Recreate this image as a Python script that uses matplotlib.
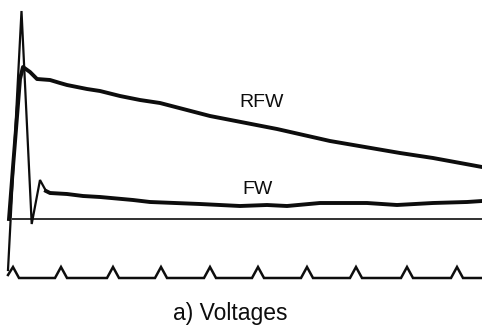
import matplotlib
matplotlib.use("Agg")
import matplotlib.pyplot as plt
import numpy as np

# time axis (arbitrary units) and voltages (arbitrary units, 0 = reference line)
fw_t = [8, 21.5, 31.7, 40, 46, 50, 67, 83, 100, 133, 150, 200, 240, 267, 287,
        320, 367, 397, 433, 467, 482]
fw_v = [-51, 208, -5, 39, 28, 26, 25, 23, 22, 19, 17, 15, 13, 14, 13,
        16, 16, 14, 16, 17, 18]

rfw_t = [9, 13, 20, 23, 30, 37, 50, 60, 67, 87, 100, 120, 140, 160, 210,
         277, 330, 400, 433, 482]
rfw_v = [0, 52, 140, 152, 147, 140, 139, 136, 134, 130, 128, 123, 119, 116, 103,
         90, 78, 66, 61, 52]

# clock / trigger pulse train
pulse_centers = [13, 61, 113, 161, 210, 258, 307, 356, 407, 457]
pulse_low = -59
pulse_high = -48

ref_t = [12, 482]
ref_v = [0, 0]

labels = {"RFW": (262, 112), "FW": (257, 25)}
caption = "a) Voltages"

plt.rcParams['font.family'] = ['Liberation Sans', 'DejaVu Sans']

fig = plt.figure(figsize=(4.82, 3.25), dpi=100)
ax = fig.add_axes([0, 0, 1, 1])
ax.set_xlim(0, 482)
ax.set_ylim(-106, 219)
ax.axis('off')

col = '#0d0d0d'

# reference line
ax.plot(ref_t, ref_v, color=col, lw=1.2, solid_capstyle='butt')

# pulse train
pt, pv = [8], [pulse_low + 3]
for i, c in enumerate(pulse_centers):
    if i > 0:
        pt.append(c - 6); pv.append(pulse_low)
    pt.append(c); pv.append(pulse_high)
    pt.append(c + 6); pv.append(pulse_low)
pt.append(482); pv.append(pulse_low)
ax.plot(pt, pv, color=col, lw=1.8, solid_joinstyle='miter')

# FW: spike portion thinner, tail thicker
ax.plot(fw_t[:6], fw_v[:6], color=col, lw=1.6, solid_joinstyle='miter')
ax.plot(fw_t[4:], fw_v[4:], color=col, lw=2.8, solid_joinstyle='round')

# RFW
ax.plot(rfw_t, rfw_v, color=col, lw=2.8, solid_joinstyle='round')

for name, (x, y) in labels.items():
    ax.text(x, y, name, ha='center', va='baseline', fontsize=14, color=col)

ax.text(230, -101, caption, ha='center', va='baseline', fontsize=16.5, color=col)

fig.savefig('out.png', dpi=100)
